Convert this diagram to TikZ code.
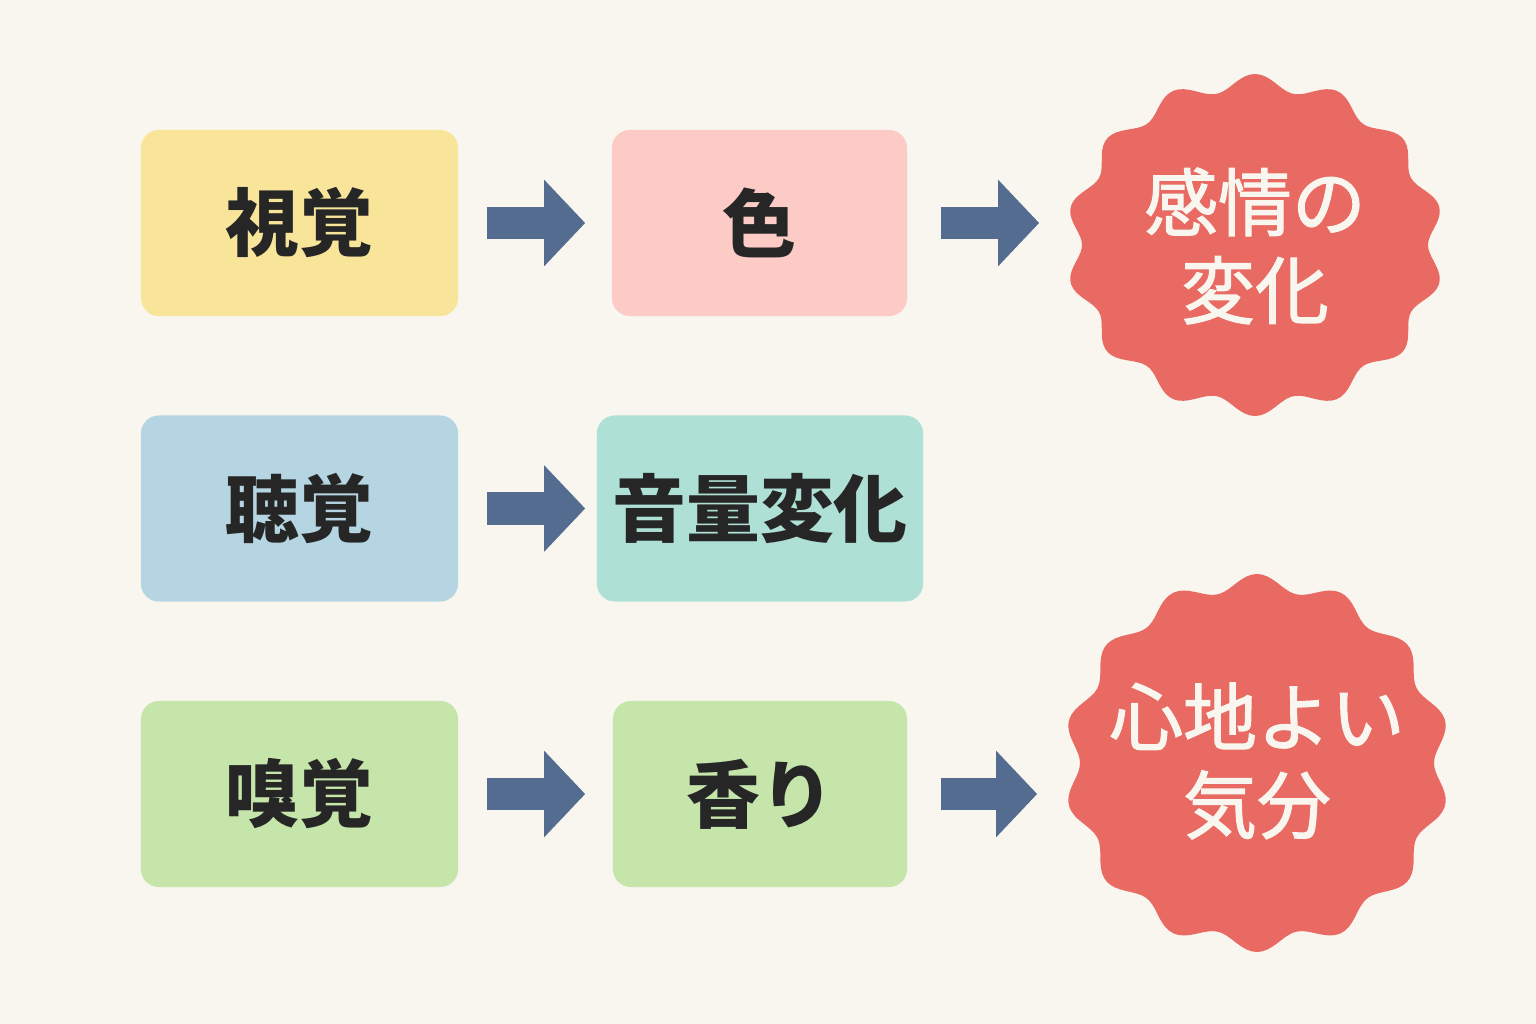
\documentclass[tikz,border=0pt]{standalone}
\usepackage{fontspec}
\setmainfont{Noto Sans CJK JP}
\newfontfamily\burstfont{Noto Sans CJK JP}[FakeBold=1.6]
\usetikzlibrary{arrows.meta}

\definecolor{paper}{HTML}{F8F6EE}
\definecolor{ink}{HTML}{262626}
\definecolor{sightyellow}{HTML}{F8E59A}
\definecolor{colourpink}{HTML}{FCCBC6}
\definecolor{hearblue}{HTML}{B5D5E2}
\definecolor{volumemint}{HTML}{AEE0D5}
\definecolor{smellgreen}{HTML}{C5E5AB}
\definecolor{burstred}{HTML}{E86A62}
\definecolor{arrowblue}{HTML}{536C8F}

\tikzset{
  box/.style={rounded corners=0.18cm, minimum height=1.86cm, inner sep=0pt,
    font=\fontsize{21}{25}\selectfont\bfseries, text=ink},
  burst/.style={circle, inner sep=0pt, align=center, text=paper,
    font=\fontsize{21}{25}\selectfont\burstfont},
  bigarrow/.style={arrowblue, line width=0.32cm,
    -{Triangle[length=0.41cm, width=0.84cm]}}
}

\begin{document}
\begin{tikzpicture}[x=0.01cm,y=-0.01cm]
\fill[paper] (0,0) rectangle (1536,1024);
\useasboundingbox (0,0) rectangle (1536,1024);

% sight
\node[box, fill=sightyellow, minimum width=3.17cm] (sight) at (299.5,223) {視覚};
\node[box, fill=colourpink, minimum width=2.95cm] (colour) at (759.5,223) {色};
\fill[burstred] plot[domain=0:360, samples=241]
  ({1255+(181+8*cos(14*(\x-90)))*cos(\x)}, {245+(163+8*cos(14*(\x-90)))*sin(\x)}) -- cycle;
\node[burst, minimum size=3.56cm] (emotion) at (1255,246) {感情の\\変化};
\draw[bigarrow, shorten <=0.28cm, shorten >=0.26cm] (sight) -- (colour);
\draw[bigarrow, shorten <=0.33cm, shorten >=0.37cm] (colour.east) -- (colour.east -| emotion.west);

% hearing
\node[box, fill=hearblue, minimum width=3.17cm] (hearing) at (299.5,508.5) {聴覚};
\node[box, fill=volumemint, minimum width=3.26cm] (volume) at (760,508.5) {音量変化};
\draw[bigarrow, shorten <=0.28cm, shorten >=0.11cm] (hearing) -- (volume);

% smell
\node[box, fill=smellgreen, minimum width=3.17cm] (smell) at (299.5,794) {嗅覚};
\node[box, fill=smellgreen, minimum width=2.94cm] (scent) at (760,794) {香り};
\fill[burstred] plot[domain=0:360, samples=241]
  ({1257+(185+8*cos(14*(\x-90)))*cos(\x)}, {763+(181+8*cos(14*(\x-90)))*sin(\x)}) -- cycle;
\node[burst, minimum size=3.80cm] (mood) at (1257,761) {心地よい\\気分};
\draw[bigarrow, shorten <=0.28cm, shorten >=0.27cm] (smell) -- (scent);
\draw[bigarrow, shorten <=0.33cm, shorten >=0.29cm] (scent.east) -- (scent.east -| mood.west);
\end{tikzpicture}
\end{document}
